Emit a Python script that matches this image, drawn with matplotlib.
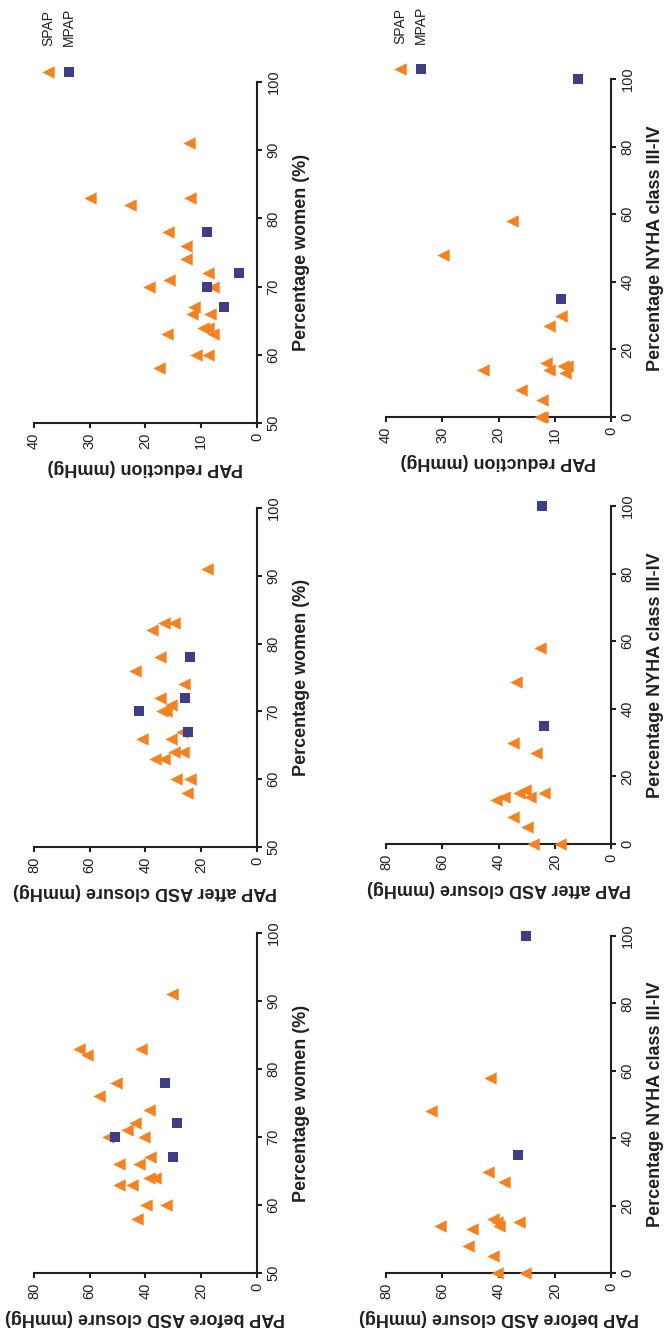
import numpy as np
import matplotlib
matplotlib.use('Agg')
import matplotlib.pyplot as plt

plt.rcParams['font.family'] = ['Liberation Sans', 'DejaVu Sans']

# --- data ---
# percentage women
women_spap = [91, 83, 83, 82, 78, 76, 74, 72, 71, 70, 70, 67, 66, 66, 64, 64, 63, 63, 60, 60, 58]
women_mpap = [78, 72, 70, 67]
women_spap_before = [30.5, 63.7, 41.7, 60.8, 50.7, 56.6, 38.7, 43.7, 46.7, 53.3, 40.7,
                     38.3, 49.5, 42.5, 36.5, 38.9, 49.5, 44.7, 39.9, 32.7, 43.1]
women_spap_after = [18.0, 29.9, 33.5, 37.7, 34.7, 43.7, 26.1, 34.7, 30.9, 34.0, 32.8,
                    26.9, 41.1, 30.9, 29.9, 26.6, 36.5, 33.3, 29.0, 24.0, 25.1]
women_spap_red = [12.2, 29.9, 12.0, 22.8, 16.0, 12.8, 12.8, 8.8, 15.8, 19.3, 7.9,
                  11.3, 11.6, 8.4, 9.7, 8.7, 16.1, 7.9, 10.9, 8.8, 17.6]
women_mpap_before = [32.9, 28.7, 50.9, 30.3]
women_mpap_after = [24.0, 25.7, 42.2, 24.6]
women_mpap_red = [9.0, 3.2, 9.0, 5.9]

# percentage NYHA class III-IV
nyha_spap = [58, 48, 30, 27, 16, 15, 15, 14, 14, 13, 8, 5, 0, 0]
nyha_mpap = [100, 35]
nyha_spap_before = [43.0, 63.9, 43.6, 38.2, 42.1, 32.7, 40.6, 60.7, 39.8, 49.5, 51.0, 41.8, 40.6, 30.5]
nyha_spap_after = [25.2, 33.8, 34.9, 26.7, 30.5, 24.0, 32.7, 38.0, 28.8, 40.9, 34.7, 29.7, 27.9, 18.1]
nyha_spap_red = [17.6, 29.8, 8.9, 11.0, 11.6, 8.6, 7.9, 22.8, 11.0, 8.2, 16.0, 12.2, 12.6, 12.3]
nyha_mpap_before = [30.3, 32.9]
nyha_mpap_after = [24.4, 24.0]
nyha_mpap_red = [5.8, 8.9]

orange = '#f7811e'
navy = '#3e3d8a'
ink = '#231f20'

f = plt.figure(figsize=(6.65, 13.4), dpi=100)


def panel(rect, pct_spap, pap_spap, pct_mpap, pap_mpap, pap_max, pct_min, pct_ticks,
          pap_label, pct_label, legend=False):
    ax = f.add_axes(rect)
    # figure is laid out turned a quarter: PAP runs right-to-left, percentage bottom-to-top
    ax.scatter(pap_spap, pct_spap, marker='<', s=80, color=orange, linewidths=0, clip_on=False, zorder=3)
    ax.scatter(pap_mpap, pct_mpap, marker='s', s=55, color=navy, linewidths=0, clip_on=False, zorder=4)
    ax.set_xlim(pap_max, 0)
    ax.set_ylim(pct_min, 100)
    ax.set_xticks(np.linspace(0, pap_max, 5))
    ax.set_xticklabels([str(int(v)) for v in np.linspace(0, pap_max, 5)])
    ax.set_yticks(pct_ticks)
    ax.spines['top'].set_visible(False)
    ax.spines['left'].set_visible(False)
    ax.spines['bottom'].set_linewidth(1.5)
    ax.spines['right'].set_linewidth(1.5)
    ax.spines['bottom'].set_color(ink)
    ax.spines['right'].set_color(ink)
    ax.yaxis.tick_right()
    ax.yaxis.set_label_position('right')
    ax.tick_params(direction='out', length=3.5, width=1.5, color=ink, labelcolor=ink,
                   labelsize=10.5, pad=3.5)
    ax.tick_params(axis='x', labelrotation=90)
    ax.tick_params(axis='y', labelrotation=90)
    for t in ax.get_yticklabels():
        t.set_va('center')
    ax.set_xlabel(pap_label, rotation=180, fontsize=13, fontweight='bold', color=ink, labelpad=7)
    ax.set_ylabel(pct_label, rotation=90, fontsize=13, fontweight='bold', color=ink, labelpad=9)
    if legend:
        ax.scatter([0.063], [1.03], marker='<', s=80, color=orange, linewidths=0,
                   transform=ax.transAxes, clip_on=False)
        ax.scatter([0.155], [1.03], marker='s', s=55, color=navy, linewidths=0,
                   transform=ax.transAxes, clip_on=False)
        ax.text(0.063, 1.105, 'SPAP', rotation=90, ha='center', va='bottom', fontsize=10,
                color=ink, transform=ax.transAxes)
        ax.text(0.155, 1.105, 'MPAP', rotation=90, ha='center', va='bottom', fontsize=10,
                color=ink, transform=ax.transAxes)
    return ax


women_ticks = [50, 60, 70, 80, 90, 100]
nyha_ticks = [0, 20, 40, 60, 80, 100]

# top row: PAP reduction
panel([0.0511, 0.6843, 0.3353, 0.2545], women_spap, women_spap_red, women_mpap, women_mpap_red,
      40, 50, women_ticks, 'PAP reduction (mmHg)', 'Percentage women (%)', legend=True)
panel([0.5805, 0.6888, 0.3383, 0.2522], nyha_spap, nyha_spap_red, nyha_mpap, nyha_mpap_red,
      40, 0, nyha_ticks, 'PAP reduction (mmHg)', 'Percentage NYHA class III-IV', legend=True)

# middle row: PAP after ASD closure
panel([0.0511, 0.3679, 0.3353, 0.2530], women_spap, women_spap_after, women_mpap, women_mpap_after,
      80, 50, women_ticks, 'PAP after ASD closure (mmHg)', 'Percentage women (%)')
panel([0.5805, 0.3701, 0.3383, 0.2522], nyha_spap, nyha_spap_after, nyha_mpap, nyha_mpap_after,
      80, 0, nyha_ticks, 'PAP after ASD closure (mmHg)', 'Percentage NYHA class III-IV')

# bottom row: PAP before ASD closure
panel([0.0511, 0.0500, 0.3353, 0.2537], women_spap, women_spap_before, women_mpap, women_mpap_before,
      80, 50, women_ticks, 'PAP before ASD closure (mmHg)', 'Percentage women (%)')
panel([0.5805, 0.0500, 0.3383, 0.2515], nyha_spap, nyha_spap_before, nyha_mpap, nyha_mpap_before,
      80, 0, nyha_ticks, 'PAP before ASD closure (mmHg)', 'Percentage NYHA class III-IV')

f.savefig('out.png', dpi=100)
